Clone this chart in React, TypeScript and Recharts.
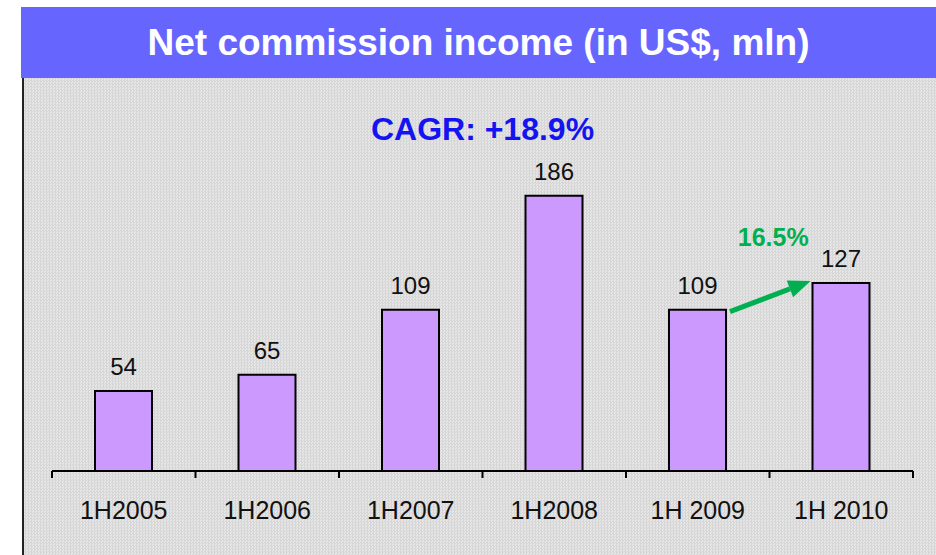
import React from "react";
import { BarChart, Bar, XAxis, YAxis, LabelList } from "recharts";

const periods = ["1H2005", "1H2006", "1H2007", "1H2008", "1H 2009", "1H 2010"];
const commission = [54, 65, 109, 186, 109, 127];
const growthLabel = "16.5%";
const cagrLabel = "CAGR: +18.9%";
const title = "Net commission income (in US$, mln)";

const W = 936;
const H = 555;
const M_LEFT = 52;
const M_RIGHT = 23;
const M_TOP = 175;
const XAXIS_H = 84;
const BASE_Y = H - XAXIS_H;
const BAND = (W - M_LEFT - M_RIGHT) / periods.length;
const FONT = "'Liberation Sans', Arial, sans-serif";

const data = periods.map((p, i) => ({ period: p, value: commission[i] }));

const AxisTick = (props: any) => {
  const { x, payload, index } = props;
  const left = x - BAND / 2;
  return (
    <g>
      <line x1={left} x2={left} y1={BASE_Y} y2={BASE_Y + 7} stroke="#000" strokeWidth={2} />
      {index === periods.length - 1 && (
        <line x1={left + BAND} x2={left + BAND} y1={BASE_Y} y2={BASE_Y + 7} stroke="#000" strokeWidth={2} />
      )}
      <text x={x} y={BASE_Y + 48} textAnchor="middle" fontSize={25} fontFamily={FONT} fill="#111">
        {payload.value}
      </text>
    </g>
  );
};

const ValueLabel = (props: any) => {
  const vb = props.viewBox ?? props;
  const rawX = Number(vb.x);
  const rawW = Number(vb.width);
  const x = Math.min(rawX, rawX + rawW);
  const width = Math.abs(rawW);
  const y = Number(vb.y);
  const height = Math.abs(Number(vb.height));
  const { value, index } = props;
  const cx = x + width / 2;
  let arrow = null;
  if (index === 4) {
    // growth arrow from this bar to the next one
    const perUnit = height / commission[4];
    const nextTop = BASE_Y - commission[5] * perUnit;
    const sx = x + width + 4;
    const sy = y + 2;
    const ex = x + BAND - 2;
    const ey = nextTop - 2;
    const ang = Math.atan2(ey - sy, ex - sx);
    const hl = 22;
    const hw = 9;
    const bx = ex - hl * Math.cos(ang);
    const by = ey - hl * Math.sin(ang);
    const px = -Math.sin(ang) * hw;
    const py = Math.cos(ang) * hw;
    arrow = (
      <g>
        <line x1={sx} y1={sy} x2={bx} y2={by} stroke="#00B050" strokeWidth={5} />
        <polygon points={`${ex},${ey} ${bx + px},${by + py} ${bx - px},${by - py}`} fill="#00B050" />
        <text
          x={(sx + ex) / 2 + 3}
          y={nextTop - 37}
          textAnchor="middle"
          fontSize={25}
          fontWeight="bold"
          fontFamily={FONT}
          fill="#00B050"
        >
          {growthLabel}
        </text>
      </g>
    );
  }
  return (
    <g>
      <text x={cx} y={y - 16} textAnchor="middle" fontSize={24} fontFamily={FONT} fill="#111">
        {value}
      </text>
      {arrow}
    </g>
  );
};

export default function App() {
  return (
    <div
      style={{
        position: "absolute",
        left: 0,
        top: 0,
        width: W,
        height: H,
        overflow: "hidden",
        background: "#fff",
        fontFamily: FONT,
      }}
    >
      <div
        style={{
          position: "absolute",
          left: 22,
          top: 78,
          width: W - 22,
          height: H - 78,
          borderLeft: "2px solid #222",
          background: "repeating-conic-gradient(#d6d6d6 0 25%, #e6e6e6 0 50%) 0 0 / 3px 3px",
        }}
      />
      <div
        style={{
          position: "absolute",
          left: 21,
          top: 7,
          width: W - 21,
          height: 71,
          background: "#6666FF",
          color: "#fff",
          fontWeight: "bold",
          fontSize: 37,
          lineHeight: "71px",
          textAlign: "center",
        }}
      >
        {title}
      </div>
      <div
        style={{
          position: "absolute",
          left: M_LEFT,
          width: W - M_LEFT - M_RIGHT,
          top: 109,
          textAlign: "center",
          color: "#1414F0",
          fontWeight: "bold",
          fontSize: 32,
          lineHeight: "40px",
        }}
      >
        {cagrLabel}
      </div>
      <div style={{ position: "absolute", left: 0, top: 0 }}>
        <BarChart
          width={W}
          height={H}
          data={data}
          margin={{ top: M_TOP, right: M_RIGHT, left: M_LEFT, bottom: 0 }}
        >
          <XAxis
            dataKey="period"
            height={XAXIS_H}
            axisLine={{ stroke: "#000", strokeWidth: 2 }}
            tickLine={false}
            tick={<AxisTick />}
            interval={0}
          />
          <YAxis hide domain={[0, 200]} />
          <Bar dataKey="value" barSize={57} fill="#CC99FF" stroke="#000" strokeWidth={2} isAnimationActive={false}>
            <LabelList dataKey="value" content={<ValueLabel />} />
          </Bar>
        </BarChart>
      </div>
    </div>
  );
}
